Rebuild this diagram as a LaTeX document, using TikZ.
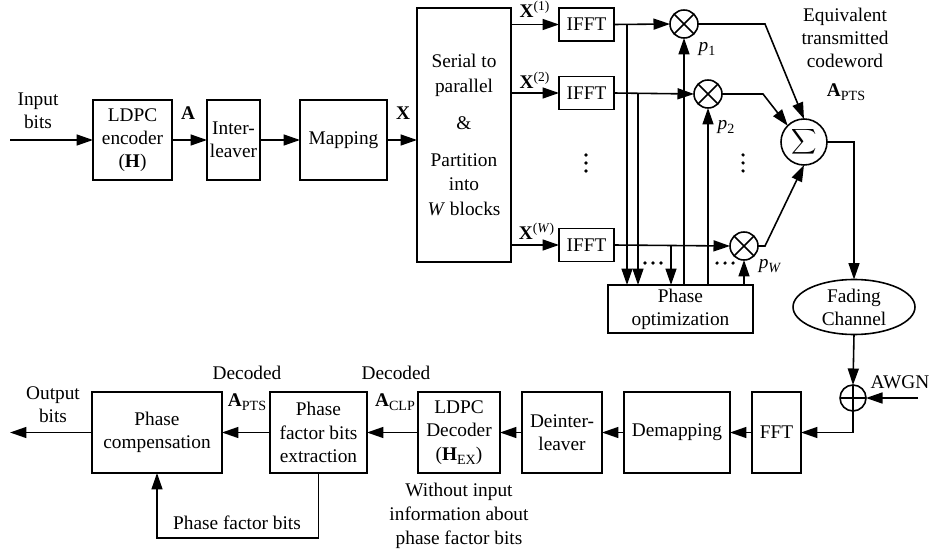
\documentclass[tikz,border=0pt]{standalone}
\usepackage{fontspec}
\setmainfont{Liberation Serif}
\usetikzlibrary{arrows.meta,shapes.geometric}
\newcommand{\mysub}[1]{\raisebox{-0.45ex}{\footnotesize #1}}
\begin{document}
\begin{tikzpicture}[x=0.02cm,y=-0.02cm,
  font=\fontsize{11}{13.2}\selectfont,
  line width=0.9pt,
  blk/.style={draw,rectangle,inner sep=0pt,outer sep=0pt,align=center,minimum height=1.62cm},
  arr/.style={-{Triangle[length=3.3mm,width=2.2mm]}},
  ifftbox/.style={draw,rectangle,inner sep=0pt,outer sep=0pt,minimum width=1.1cm,minimum height=0.66cm},
  mult/.style={draw,circle,inner sep=0pt,outer sep=0pt,minimum size=0.56cm},
  lbl/.style={inner sep=0pt,align=center},
  dotm/.style={fill,circle,inner sep=0pt,minimum size=2pt}]
\useasboundingbox (0,0) rectangle (937,554);

% ---- top row ----
\node[blk,minimum width=1.58cm,minimum height=1.6cm] (enc) at (132.5,140) {LDPC\\encoder\\(\textbf{H})};
\node[blk,minimum width=1.06cm,minimum height=1.6cm] (intl) at (233.5,140) {Inter-\\leaver};
\node[blk,minimum width=1.74cm,minimum height=1.6cm] (map) at (343.5,140) {Mapping};
\node[blk,minimum width=1.88cm,minimum height=5.08cm,font=\fontsize{11}{14}\selectfont] (sp) at (464,135)
  {Serial to\\parallel\\[7pt]\&\\[7pt]Partition\\into\\\textit{W} blocks};

\node[ifftbox] (f1) at (586.5,24.5) {IFFT};
\node[ifftbox] (f2) at (586.5,93) {IFFT};
\node[ifftbox] (fw) at (586.5,245) {IFFT};

\node[mult] (m1) at (684,24) {};
\node[mult] (m2) at (708,94) {};
\node[mult] (mw) at (744,246) {};
\foreach \m in {m1,m2,mw}{
  \draw (\m.north east) -- (\m.south west);
  \draw (\m.north west) -- (\m.south east);
}

\node[blk,minimum width=2.9cm,minimum height=0.96cm] (po) at (680.5,309) {Phase\\optimization};

\node[draw,circle,inner sep=0pt,outer sep=0pt,minimum size=0.92cm] (sig) at (804,142) {$\displaystyle\sum$};

\node[draw,ellipse,inner sep=0pt,outer sep=0pt,minimum width=2.44cm,minimum height=1.1cm,align=center] (fad) at (854,307) {Fading\\Channel};

\node[draw,circle,inner sep=0pt,outer sep=0pt,minimum size=0.52cm] (add) at (853,398) {};
\draw (add.north) -- (add.south);
\draw (add.west) -- (add.east);

% ---- bottom row ----
\node[blk,minimum width=0.98cm] (fft) at (776.5,432.5) {FFT};
\node[blk,minimum width=2.12cm] (dem) at (677,432.5) {Demapping};
\node[blk,minimum width=1.6cm] (deint) at (562,432.5) {Deinter-\\leaver};
\node[blk,minimum width=1.64cm] (dec) at (459,432.5) {LDPC\\Decoder\\(\textbf{H}\mysub{EX})};
\node[blk,minimum width=1.94cm] (ext) at (318.5,432.5) {Phase\\factor bits\\extraction};
\node[blk,minimum width=2.6cm] (comp) at (157,432.5) {Phase\\compensation};

% ---- coordinates ----
\coordinate (in) at (10,140);
\coordinate (j1) at (627,24.5);
\coordinate (j2) at (638,93);
\coordinate (j3) at (671,245);
\coordinate (b1) at (765,24);
\coordinate (b2) at (763,94);
\coordinate (bw) at (765,246);
\coordinate (awgnin) at (918,398);
\coordinate (out) at (10,432.5);
\coordinate (fb) at (318.5,538);

% ---- connectors top ----
\draw[arr] (in) -- (enc.west);
\draw[arr] (enc.east) -- (intl.west);
\draw[arr] (intl.east) -- (map.west);
\draw[arr] (map.east) -- (map.east -| sp.west);
\draw[arr] (sp.east |- f1) -- (f1.west);
\draw[arr] (sp.east |- f2) -- (f2.west);
\draw[arr] (sp.east |- fw) -- (fw.west);
\draw[arr] (f1.east) -- (m1.west);
\draw[arr] (f2.east) -- (m2.west);
\draw[arr] (fw.east) -- (mw.west);
\draw[arr] (j1) -- (j1 |- po.north);
\draw[arr] (j2) -- (j2 |- po.north);
\draw[arr] (j3) -- (j3 |- po.north);
\draw[arr] (po.north -| m1) -- (m1.south);
\draw[arr] (po.north -| m2) -- (m2.south);
\draw[arr] (po.north -| mw) -- (mw.south);
\draw[arr] (m1.east) -- (b1) -- (sig.north);
\draw[arr] (m2.east) -- (b2) -- (sig.135);
\draw[arr] (mw.east) -- (bw) -- (sig.south);
\draw[arr] (sig.east) -| (fad.north);
\draw[arr] (fad.south) -- (add.north);
\draw[arr] (awgnin) -- (add.east);
\draw[arr] (add.south) |- (fft.east);

% ---- connectors bottom ----
\draw[arr] (fft.west) -- (dem.east);
\draw[arr] (dem.west) -- (deint.east);
\draw[arr] (deint.west) -- (dec.east);
\draw[arr] (dec.west) -- (ext.east);
\draw[arr] (ext.west) -- (comp.east);
\draw[arr] (comp.west) -- (out);
\draw[arr] (ext.south) -- (fb) -| (comp.south);

% ---- labels ----
\node[lbl] (tin) at (38,111) {Input\\bits};
\node[lbl] (tA) at (188,113) {\textbf{A}};
\node[lbl] (tX) at (403,113) {\textbf{X}};
\node[lbl] (tx1) at (535,9) {\textbf{X}\textsuperscript{(1)}};
\node[lbl] (tx2) at (535,80) {\textbf{X}\textsuperscript{(2)}};
\node[lbl] (txw) at (537,231) {\textbf{X}\textsuperscript{(\textit{W})}};
\node[lbl] (tp1) at (707,49) {\textit{p}\mysub{1}};
\node[lbl] (tp2) at (726,127) {\textit{p}\mysub{2}};
\node[lbl] (tpw) at (770,266) {\textit{p}\mysub{\textit{W}}};
\node[lbl] (teq) at (845,38) {Equivalent\\transmitted\\codeword};
\node[lbl] (tapts) at (846,92) {\textbf{A}\mysub{PTS}};
\node[lbl] (tawgn) at (900,382) {AWGN};
\node[lbl] (tout) at (53,405) {Output\\bits};
\node[lbl] (tdec1) at (247,373) {Decoded};
\node[lbl] (tdapts) at (247,402) {\textbf{A}\mysub{PTS}};
\node[lbl] (tdec2) at (396,373) {Decoded};
\node[lbl] (tdaclp) at (395,402) {\textbf{A}\mysub{CLP}};
\node[lbl] (tpfb) at (237,523) {Phase factor bits};
\node[lbl,font=\fontsize{11}{13.8}\selectfont] (two) at (459,516) {Without input\\information about\\phase factor bits};

% ---- dots ----
\foreach \y in {155,163,171}{
  \node[dotm] at (586,\y) {};
  \node[dotm] at (743,\y) {};
}
\foreach \x in {645,653,661}{ \node[dotm] at (\x,263) {}; }
\foreach \x in {717,725,733}{ \node[dotm] at (\x,263) {}; }
\end{tikzpicture}
\end{document}
